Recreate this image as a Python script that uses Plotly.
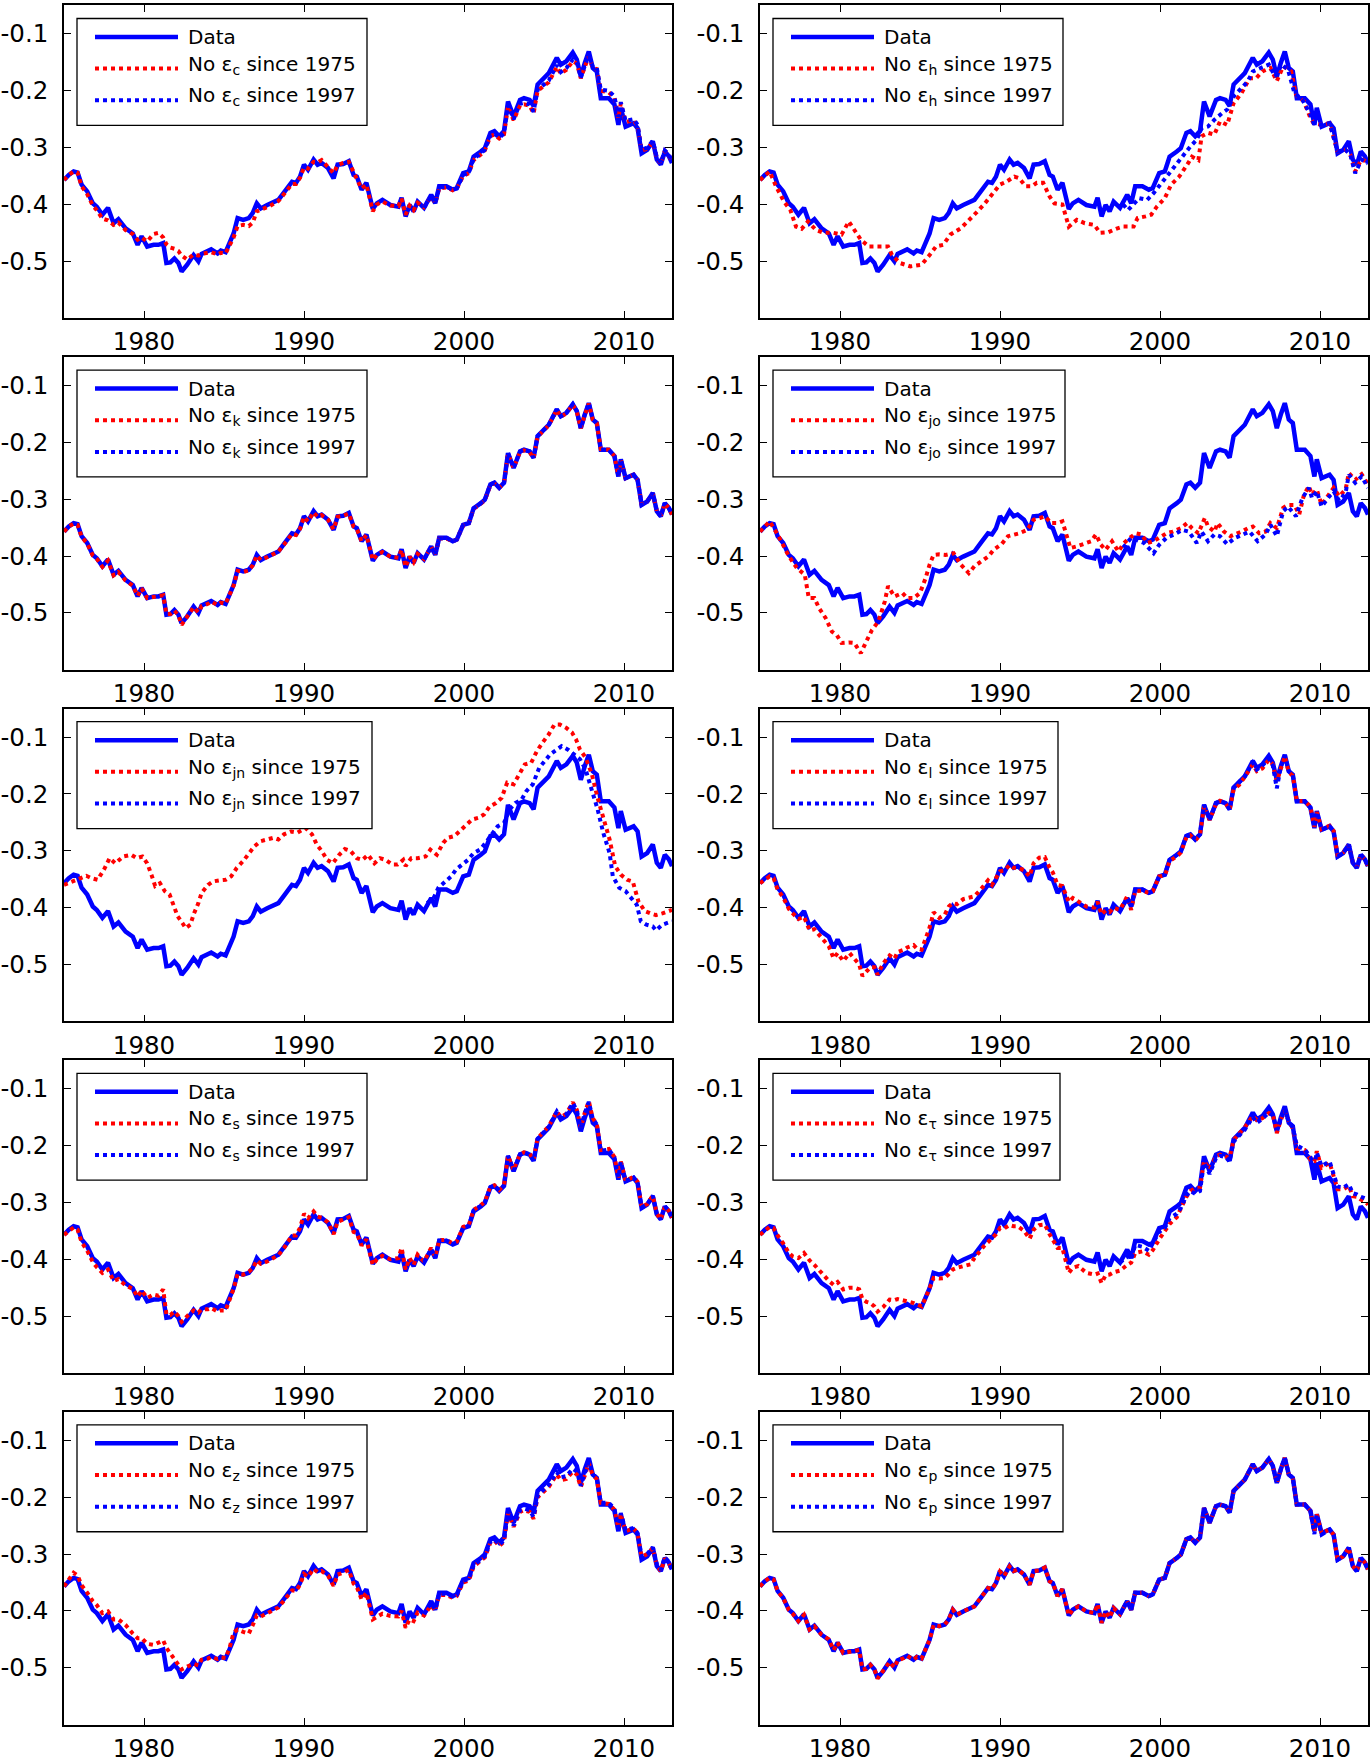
import plotly.graph_objects as go

# ---------------------------------------------------------------- data
DATA_YEARS = [
    1975.00, 1975.30, 1975.60, 1975.85, 1976.10, 1976.45, 1976.80, 1977.05, 1977.40, 1977.75,
    1978.10, 1978.40, 1978.85, 1979.30, 1979.60, 1979.85, 1980.20, 1980.60, 1980.90, 1981.20,
    1981.40, 1981.65, 1981.90, 1982.15, 1982.35, 1982.70, 1983.10, 1983.40, 1983.60, 1984.00,
    1984.20, 1984.60, 1984.80, 1985.10, 1985.35, 1985.60, 1985.85, 1986.20, 1986.55, 1986.80,
    1987.05, 1987.30, 1987.70, 1988.15, 1988.40, 1988.80, 1989.05, 1989.25, 1989.50, 1989.75,
    1990.00, 1990.25, 1990.60, 1990.85, 1991.10, 1991.50, 1991.85, 1992.10, 1992.45, 1992.80,
    1993.10, 1993.30, 1993.60, 1993.90, 1994.30, 1994.55, 1994.90, 1995.40, 1995.90, 1996.10,
    1996.35, 1996.60, 1996.85, 1997.10, 1997.50, 1997.95, 1998.20, 1998.45, 1998.90, 1999.30,
    1999.55, 1999.95, 2000.30, 2000.60, 2001.05, 2001.30, 2001.65, 2001.90, 2002.20, 2002.50,
    2002.75, 2003.10, 2003.50, 2003.75, 2004.10, 2004.35, 2004.60, 2004.95, 2005.30, 2005.80,
    2006.05, 2006.40, 2006.80, 2007.05, 2007.30, 2007.55, 2007.80, 2008.05, 2008.30, 2008.55,
    2009.05, 2009.40, 2009.65, 2009.80, 2010.10, 2010.60, 2010.85, 2011.10, 2011.45, 2011.80,
    2012.05, 2012.30, 2012.55, 2012.80, 2013.00]

DATA_VALUES = [
    -0.357, -0.348, -0.342, -0.344, -0.365, -0.377, -0.398, -0.404, -0.418, -0.406,
    -0.433, -0.426, -0.442, -0.451, -0.471, -0.456, -0.474, -0.471, -0.471, -0.468,
    -0.503, -0.502, -0.495, -0.503, -0.518, -0.506, -0.489, -0.500, -0.487, -0.483,
    -0.479, -0.486, -0.481, -0.484, -0.468, -0.451, -0.424, -0.427, -0.424, -0.415,
    -0.398, -0.407, -0.401, -0.395, -0.392, -0.377, -0.368, -0.360, -0.362, -0.351,
    -0.330, -0.339, -0.321, -0.330, -0.327, -0.336, -0.354, -0.330, -0.329, -0.324,
    -0.348, -0.351, -0.374, -0.362, -0.408, -0.398, -0.392, -0.401, -0.404, -0.388,
    -0.421, -0.401, -0.412, -0.395, -0.406, -0.383, -0.398, -0.368, -0.368, -0.374,
    -0.371, -0.345, -0.342, -0.316, -0.307, -0.301, -0.274, -0.271, -0.280, -0.271,
    -0.219, -0.245, -0.216, -0.213, -0.216, -0.227, -0.189, -0.180, -0.169, -0.142,
    -0.154, -0.148, -0.133, -0.145, -0.175, -0.151, -0.131, -0.160, -0.166, -0.213,
    -0.213, -0.224, -0.260, -0.230, -0.263, -0.257, -0.266, -0.310, -0.304, -0.289,
    -0.321, -0.330, -0.307, -0.315, -0.327]

START_1997 = 74
YEARS_1997 = DATA_YEARS[START_1997:]

# --- shock c
C_1975 = [
    -0.357, -0.348, -0.342, -0.344, -0.368, -0.382, -0.402, -0.410, -0.425, -0.428,
    -0.436, -0.432, -0.445, -0.452, -0.462, -0.458, -0.465, -0.452, -0.450, -0.458,
    -0.470, -0.476, -0.478, -0.482, -0.490, -0.497, -0.488, -0.490, -0.487, -0.486,
    -0.484, -0.488, -0.485, -0.486, -0.472, -0.458, -0.438, -0.436, -0.438, -0.432,
    -0.412, -0.410, -0.405, -0.398, -0.394, -0.380, -0.371, -0.364, -0.364, -0.353,
    -0.335, -0.337, -0.325, -0.326, -0.322, -0.333, -0.345, -0.331, -0.327, -0.325,
    -0.345, -0.355, -0.372, -0.365, -0.412, -0.400, -0.395, -0.402, -0.403, -0.390,
    -0.418, -0.402, -0.410, -0.397, -0.405, -0.386, -0.398, -0.372, -0.370, -0.375,
    -0.372, -0.350, -0.345, -0.322, -0.312, -0.305, -0.280, -0.277, -0.284, -0.277,
    -0.228, -0.252, -0.226, -0.224, -0.226, -0.240, -0.200, -0.192, -0.185, -0.158,
    -0.170, -0.163, -0.148, -0.152, -0.178, -0.158, -0.140, -0.160, -0.162, -0.200,
    -0.203, -0.212, -0.248, -0.222, -0.255, -0.252, -0.262, -0.305, -0.302, -0.290,
    -0.318, -0.328, -0.306, -0.313, -0.325]
C_1997 = [
    -0.406, -0.385, -0.398, -0.370, -0.369, -0.374, -0.372, -0.348, -0.344, -0.320,
    -0.310, -0.304, -0.278, -0.275, -0.283, -0.275, -0.225, -0.250, -0.223, -0.221,
    -0.224, -0.237, -0.198, -0.190, -0.182, -0.155, -0.167, -0.160, -0.145, -0.150,
    -0.177, -0.156, -0.138, -0.158, -0.160, -0.198, -0.200, -0.210, -0.246, -0.220,
    -0.253, -0.250, -0.260, -0.304, -0.300, -0.288, -0.317, -0.327, -0.305, -0.312,
    -0.324]

# --- shock h
H_1975_YEARS = [
    1975.0, 1975.6, 1976.0, 1976.5, 1976.9, 1977.25, 1977.6, 1978.0, 1978.5, 1979.0,
    1979.6, 1980.1, 1980.55, 1980.9, 1981.3, 1981.8, 1982.4, 1983.0, 1983.25, 1983.75,
    1984.4, 1985.1, 1985.6, 1986.0, 1986.45, 1986.9, 1987.55, 1988.0, 1988.5, 1989.0,
    1989.5, 1990.0, 1990.4, 1990.9, 1991.2, 1991.6, 1992.0, 1992.3, 1992.7, 1993.1,
    1993.4, 1993.9, 1994.3, 1994.8, 1995.3, 1995.9, 1996.25, 1996.75, 1997.25, 1997.7,
    1998.35, 1998.6, 1999.1, 1999.45, 1999.8, 2000.3, 2000.7, 2001.2, 2001.7, 2002.0,
    2002.4, 2002.6, 2003.0, 2003.4, 2003.75, 2004.2, 2004.6, 2005.1, 2005.6, 2006.0,
    2006.4, 2006.9, 2007.3, 2007.7, 2008.2, 2008.5, 2009.0, 2009.4, 2009.6, 2010.1,
    2010.6, 2011.1, 2011.6, 2011.9, 2012.2, 2012.6, 2013.0]
H_1975 = [
    -0.357, -0.342, -0.368, -0.395, -0.410, -0.439, -0.443, -0.430, -0.445, -0.450,
    -0.450, -0.453, -0.430, -0.445, -0.462, -0.474, -0.474, -0.474, -0.489, -0.503,
    -0.509, -0.506, -0.489, -0.474, -0.471, -0.453, -0.442, -0.430, -0.415, -0.400,
    -0.383, -0.365, -0.360, -0.351, -0.354, -0.368, -0.368, -0.362, -0.362, -0.386,
    -0.398, -0.400, -0.439, -0.427, -0.433, -0.436, -0.450, -0.449, -0.443, -0.439,
    -0.439, -0.424, -0.421, -0.418, -0.404, -0.389, -0.365, -0.351, -0.330, -0.316,
    -0.322, -0.280, -0.274, -0.277, -0.254, -0.260, -0.222, -0.204, -0.178, -0.178,
    -0.166, -0.160, -0.183, -0.157, -0.166, -0.207, -0.219, -0.248, -0.257, -0.260,
    -0.257, -0.307, -0.304, -0.313, -0.342, -0.320, -0.327]
H_1997_YEARS = [
    1997.7, 1998.0, 1998.7, 1999.2, 1999.6, 2000.1, 2000.6, 2001.1, 2001.6, 2001.9,
    2002.3, 2002.6, 2003.0, 2003.4, 2003.9, 2004.2, 2004.6, 2005.1, 2005.5, 2005.8,
    2006.3, 2006.8, 2007.2, 2007.6, 2008.0, 2008.4, 2008.9, 2009.4, 2009.6, 2010.1,
    2010.6, 2011.1, 2011.6, 2011.9, 2012.2, 2012.6, 2013.0]
H_1997 = [
    -0.400, -0.410, -0.389, -0.392, -0.380, -0.362, -0.345, -0.327, -0.310, -0.298,
    -0.286, -0.266, -0.263, -0.251, -0.239, -0.233, -0.210, -0.195, -0.183, -0.166,
    -0.160, -0.154, -0.175, -0.154, -0.163, -0.204, -0.216, -0.242, -0.257, -0.260,
    -0.257, -0.307, -0.304, -0.313, -0.345, -0.321, -0.328]

# --- shock k
K_1975 = [
    -0.357, -0.348, -0.343, -0.345, -0.366, -0.378, -0.399, -0.405, -0.419, -0.408,
    -0.434, -0.428, -0.443, -0.452, -0.470, -0.457, -0.474, -0.472, -0.471, -0.469,
    -0.502, -0.502, -0.496, -0.504, -0.521, -0.507, -0.490, -0.499, -0.488, -0.484,
    -0.480, -0.486, -0.482, -0.484, -0.469, -0.452, -0.426, -0.428, -0.425, -0.416,
    -0.399, -0.407, -0.402, -0.396, -0.392, -0.378, -0.369, -0.361, -0.363, -0.352,
    -0.331, -0.339, -0.323, -0.331, -0.328, -0.336, -0.353, -0.331, -0.329, -0.325,
    -0.348, -0.352, -0.374, -0.363, -0.407, -0.398, -0.393, -0.401, -0.403, -0.389,
    -0.419, -0.401, -0.411, -0.396, -0.405, -0.384, -0.397, -0.369, -0.369, -0.374,
    -0.371, -0.346, -0.342, -0.317, -0.308, -0.302, -0.275, -0.272, -0.280, -0.272,
    -0.220, -0.245, -0.217, -0.214, -0.217, -0.228, -0.190, -0.181, -0.170, -0.143,
    -0.155, -0.149, -0.134, -0.146, -0.175, -0.152, -0.132, -0.160, -0.166, -0.212,
    -0.213, -0.224, -0.259, -0.231, -0.263, -0.257, -0.266, -0.309, -0.304, -0.290,
    -0.321, -0.329, -0.308, -0.315, -0.327]
K_1997 = [
    -0.406, -0.384, -0.398, -0.369, -0.368, -0.374, -0.371, -0.345, -0.342, -0.316,
    -0.307, -0.301, -0.274, -0.271, -0.280, -0.271, -0.219, -0.245, -0.216, -0.213,
    -0.216, -0.227, -0.189, -0.180, -0.169, -0.142, -0.154, -0.148, -0.133, -0.145,
    -0.175, -0.151, -0.131, -0.160, -0.166, -0.213, -0.213, -0.224, -0.260, -0.230,
    -0.263, -0.257, -0.266, -0.310, -0.304, -0.289, -0.321, -0.330, -0.307, -0.315,
    -0.327]

# --- shock jo
JO_1975_YEARS = [
    1975.0, 1975.6, 1976.1, 1976.45, 1976.8, 1977.3, 1977.8, 1978.05, 1978.4, 1978.7,
    1979.1, 1979.5, 1979.8, 1980.1, 1980.55, 1980.9, 1981.3, 1981.65, 1982.0, 1982.4,
    1982.8, 1983.0, 1983.4, 1983.9, 1984.2, 1984.6, 1985.0, 1985.35, 1985.6, 1985.85,
    1986.2, 1986.6, 1987.1, 1987.55, 1988.05, 1988.4, 1988.8, 1989.3, 1989.6, 1990.1,
    1990.5, 1990.9, 1991.2, 1991.7, 1992.1, 1992.5, 1992.8, 1993.2, 1993.6, 1993.9,
    1994.2, 1994.4, 1994.8, 1995.3, 1995.7, 1996.0, 1996.3, 1996.6, 1997.0, 1997.4,
    1997.75, 1998.1, 1998.5, 1998.85, 1999.2, 1999.6, 1999.95, 2000.4, 2000.8, 2001.3,
    2001.7, 2002.0, 2002.4, 2002.8, 2003.0, 2003.4, 2003.6, 2004.0, 2004.4, 2004.7,
    2005.1, 2005.5, 2005.8, 2006.2, 2006.6, 2006.9, 2007.3, 2007.7, 2008.0, 2008.4,
    2008.7, 2009.0, 2009.3, 2009.5, 2009.8, 2010.1, 2010.5, 2010.85, 2011.2, 2011.6,
    2011.8, 2012.2, 2012.6, 2013.0]
JO_1975 = [
    -0.357, -0.339, -0.362, -0.380, -0.400, -0.421, -0.433, -0.474, -0.474, -0.492,
    -0.509, -0.533, -0.539, -0.553, -0.552, -0.553, -0.571, -0.550, -0.530, -0.515,
    -0.480, -0.453, -0.471, -0.465, -0.474, -0.474, -0.465, -0.439, -0.415, -0.398,
    -0.397, -0.398, -0.395, -0.415, -0.430, -0.418, -0.410, -0.400, -0.389, -0.379,
    -0.365, -0.362, -0.360, -0.354, -0.336, -0.333, -0.330, -0.342, -0.342, -0.339,
    -0.371, -0.386, -0.383, -0.377, -0.374, -0.362, -0.380, -0.389, -0.374, -0.392,
    -0.377, -0.368, -0.360, -0.362, -0.377, -0.374, -0.368, -0.360, -0.357, -0.351,
    -0.342, -0.351, -0.360, -0.333, -0.348, -0.357, -0.342, -0.357, -0.365, -0.362,
    -0.357, -0.351, -0.348, -0.360, -0.357, -0.342, -0.351, -0.315, -0.310, -0.310,
    -0.327, -0.292, -0.277, -0.292, -0.283, -0.310, -0.295, -0.280, -0.295, -0.283,
    -0.254, -0.266, -0.256, -0.274]
JO_1997_YEARS = [
    1997.7, 1998.2, 1999.0, 1999.35, 1999.6, 1999.95, 2000.4, 2000.9, 2001.4, 2001.8,
    2002.3, 2002.6, 2003.0, 2003.4, 2003.75, 2004.2, 2004.7, 2005.2, 2005.6, 2006.1,
    2006.6, 2006.9, 2007.3, 2007.7, 2008.0, 2008.5, 2008.9, 2009.3, 2009.5, 2009.8,
    2010.1, 2010.5, 2010.85, 2011.2, 2011.6, 2011.8, 2012.2, 2012.6, 2013.0]
JO_1997 = [
    -0.385, -0.368, -0.377, -0.389, -0.395, -0.380, -0.368, -0.362, -0.354, -0.357,
    -0.377, -0.357, -0.374, -0.362, -0.365, -0.379, -0.368, -0.362, -0.357, -0.374,
    -0.362, -0.345, -0.365, -0.321, -0.313, -0.330, -0.298, -0.280, -0.298, -0.286,
    -0.313, -0.298, -0.286, -0.303, -0.289, -0.257, -0.271, -0.260, -0.280]

# --- shock jn
JN_1975_YEARS = [
    1975.0, 1975.5, 1976.0, 1976.4, 1976.7, 1977.1, 1977.5, 1977.85, 1978.2, 1978.7,
    1979.2, 1979.55, 1979.9, 1980.2, 1980.5, 1980.7, 1981.0, 1981.3, 1981.6, 1981.9,
    1982.1, 1982.4, 1982.6, 1982.9, 1983.1, 1983.4, 1983.6, 1984.0, 1984.3, 1984.7,
    1985.1, 1985.45, 1985.8, 1986.2, 1986.55, 1986.9, 1987.3, 1987.8, 1988.1, 1988.4,
    1988.75, 1989.2, 1989.6, 1990.1, 1990.5, 1990.8, 1991.1, 1991.45, 1991.8, 1992.2,
    1992.55, 1992.9, 1993.3, 1993.65, 1994.0, 1994.4, 1994.75, 1995.1, 1995.5, 1995.85,
    1996.2, 1996.35, 1996.7, 1997.1, 1997.6, 1997.9, 1998.3, 1998.7, 1999.0, 1999.4,
    1999.8, 2000.1, 2000.5, 2000.9, 2001.25, 2001.6, 2002.0, 2002.35, 2002.7, 2003.1,
    2003.45, 2003.8, 2004.2, 2004.55, 2004.9, 2005.3, 2005.65, 2006.0, 2006.4, 2006.75,
    2007.0, 2007.25, 2007.6, 2008.0, 2008.35, 2008.7, 2009.1, 2009.45, 2009.8, 2010.2,
    2010.55, 2010.9, 2011.3, 2011.65, 2012.0, 2012.4, 2013.0]
JN_1975 = [
    -0.360, -0.354, -0.348, -0.344, -0.348, -0.351, -0.333, -0.313, -0.322, -0.310,
    -0.307, -0.313, -0.310, -0.322, -0.345, -0.362, -0.357, -0.371, -0.377, -0.398,
    -0.415, -0.427, -0.436, -0.430, -0.412, -0.392, -0.374, -0.360, -0.354, -0.352,
    -0.351, -0.345, -0.330, -0.318, -0.304, -0.292, -0.283, -0.280, -0.277, -0.280,
    -0.271, -0.266, -0.268, -0.260, -0.271, -0.289, -0.300, -0.316, -0.322, -0.307,
    -0.297, -0.300, -0.313, -0.316, -0.307, -0.322, -0.313, -0.316, -0.324, -0.324,
    -0.316, -0.327, -0.313, -0.313, -0.310, -0.298, -0.307, -0.286, -0.277, -0.274,
    -0.263, -0.254, -0.245, -0.242, -0.236, -0.222, -0.216, -0.207, -0.180, -0.183,
    -0.166, -0.148, -0.145, -0.125, -0.110, -0.095, -0.078, -0.078, -0.084, -0.092,
    -0.104, -0.122, -0.136, -0.166, -0.207, -0.242, -0.280, -0.327, -0.342, -0.351,
    -0.354, -0.389, -0.406, -0.410, -0.413, -0.410, -0.404]
JN_1997_YEARS = [
    1997.7, 1998.1, 1998.4, 1998.8, 1999.2, 1999.5, 1999.9, 2000.25, 2000.6, 2001.0,
    2001.35, 2001.7, 2002.1, 2002.5, 2002.85, 2003.2, 2003.6, 2003.9, 2004.3, 2004.7,
    2005.05, 2005.4, 2005.8, 2006.1, 2006.5, 2006.9, 2007.25, 2007.6, 2008.0, 2008.35,
    2008.7, 2009.1, 2009.3, 2009.7, 2010.1, 2010.45, 2010.8, 2011.05, 2011.4, 2011.8,
    2012.0, 2012.4, 2013.0]
JN_1997 = [
    -0.392, -0.383, -0.365, -0.354, -0.345, -0.333, -0.324, -0.316, -0.304, -0.298,
    -0.286, -0.271, -0.257, -0.251, -0.227, -0.216, -0.210, -0.195, -0.183, -0.154,
    -0.142, -0.130, -0.122, -0.116, -0.122, -0.130, -0.139, -0.157, -0.195, -0.227,
    -0.268, -0.304, -0.345, -0.365, -0.371, -0.383, -0.395, -0.424, -0.430, -0.433,
    -0.440, -0.430, -0.424]

# --- shock l
L_1975 = [
    -0.357, -0.350, -0.345, -0.348, -0.368, -0.382, -0.402, -0.410, -0.420, -0.416,
    -0.440, -0.438, -0.453, -0.468, -0.489, -0.480, -0.494, -0.480, -0.490, -0.500,
    -0.520, -0.512, -0.505, -0.505, -0.518, -0.498, -0.484, -0.490, -0.478, -0.474,
    -0.470, -0.466, -0.472, -0.474, -0.455, -0.435, -0.408, -0.418, -0.412, -0.398,
    -0.392, -0.394, -0.385, -0.382, -0.380, -0.368, -0.360, -0.352, -0.360, -0.348,
    -0.336, -0.335, -0.325, -0.330, -0.330, -0.334, -0.345, -0.322, -0.312, -0.311,
    -0.330, -0.338, -0.360, -0.362, -0.390, -0.383, -0.390, -0.398, -0.400, -0.390,
    -0.412, -0.405, -0.408, -0.400, -0.404, -0.380, -0.404, -0.371, -0.370, -0.374,
    -0.371, -0.345, -0.344, -0.318, -0.310, -0.303, -0.276, -0.273, -0.282, -0.272,
    -0.222, -0.246, -0.218, -0.212, -0.216, -0.228, -0.192, -0.184, -0.170, -0.148,
    -0.160, -0.155, -0.140, -0.148, -0.178, -0.154, -0.134, -0.162, -0.168, -0.212,
    -0.213, -0.222, -0.258, -0.232, -0.262, -0.256, -0.265, -0.308, -0.303, -0.290,
    -0.320, -0.329, -0.307, -0.315, -0.327]
L_1997 = [
    -0.406, -0.383, -0.398, -0.368, -0.368, -0.374, -0.371, -0.345, -0.342, -0.316,
    -0.307, -0.301, -0.274, -0.271, -0.280, -0.271, -0.219, -0.245, -0.216, -0.213,
    -0.216, -0.227, -0.189, -0.180, -0.169, -0.145, -0.157, -0.150, -0.138, -0.150,
    -0.190, -0.153, -0.133, -0.160, -0.166, -0.213, -0.213, -0.224, -0.258, -0.232,
    -0.263, -0.257, -0.266, -0.310, -0.304, -0.289, -0.321, -0.330, -0.307, -0.315,
    -0.327]

# --- shock s
S_1975 = [
    -0.357, -0.350, -0.344, -0.348, -0.370, -0.385, -0.405, -0.414, -0.424, -0.418,
    -0.438, -0.435, -0.446, -0.452, -0.466, -0.455, -0.468, -0.462, -0.464, -0.453,
    -0.497, -0.498, -0.492, -0.500, -0.510, -0.500, -0.490, -0.494, -0.488, -0.488,
    -0.486, -0.492, -0.490, -0.490, -0.472, -0.452, -0.426, -0.427, -0.422, -0.416,
    -0.402, -0.408, -0.404, -0.397, -0.393, -0.378, -0.367, -0.358, -0.358, -0.345,
    -0.320, -0.328, -0.316, -0.325, -0.327, -0.335, -0.356, -0.334, -0.330, -0.326,
    -0.352, -0.354, -0.376, -0.365, -0.410, -0.400, -0.394, -0.400, -0.398, -0.380,
    -0.418, -0.398, -0.410, -0.392, -0.404, -0.380, -0.396, -0.366, -0.366, -0.372,
    -0.369, -0.343, -0.340, -0.313, -0.305, -0.299, -0.272, -0.270, -0.278, -0.270,
    -0.218, -0.243, -0.215, -0.212, -0.214, -0.225, -0.187, -0.177, -0.166, -0.140,
    -0.150, -0.144, -0.124, -0.137, -0.168, -0.142, -0.122, -0.152, -0.162, -0.208,
    -0.206, -0.220, -0.256, -0.228, -0.262, -0.255, -0.264, -0.308, -0.303, -0.288,
    -0.320, -0.330, -0.307, -0.315, -0.327]
S_1997 = [
    -0.405, -0.382, -0.397, -0.367, -0.367, -0.373, -0.370, -0.344, -0.341, -0.314,
    -0.306, -0.300, -0.273, -0.270, -0.279, -0.270, -0.218, -0.244, -0.215, -0.212,
    -0.215, -0.226, -0.188, -0.178, -0.167, -0.140, -0.151, -0.145, -0.125, -0.138,
    -0.168, -0.143, -0.123, -0.153, -0.163, -0.209, -0.207, -0.221, -0.256, -0.229,
    -0.262, -0.256, -0.265, -0.309, -0.303, -0.288, -0.320, -0.330, -0.307, -0.315,
    -0.327]

# --- shock tau
TAU_1975 = [
    -0.357, -0.350, -0.343, -0.345, -0.358, -0.372, -0.389, -0.395, -0.398, -0.389,
    -0.402, -0.410, -0.425, -0.438, -0.445, -0.440, -0.453, -0.450, -0.450, -0.453,
    -0.470, -0.475, -0.477, -0.483, -0.492, -0.484, -0.471, -0.472, -0.470, -0.472,
    -0.474, -0.477, -0.479, -0.483, -0.468, -0.452, -0.433, -0.434, -0.433, -0.426,
    -0.418, -0.415, -0.412, -0.409, -0.398, -0.383, -0.375, -0.370, -0.364, -0.356,
    -0.345, -0.346, -0.340, -0.342, -0.342, -0.350, -0.364, -0.348, -0.340, -0.339,
    -0.356, -0.365, -0.380, -0.380, -0.424, -0.415, -0.412, -0.424, -0.427, -0.425,
    -0.442, -0.428, -0.427, -0.423, -0.420, -0.410, -0.406, -0.389, -0.386, -0.392,
    -0.384, -0.365, -0.350, -0.338, -0.326, -0.312, -0.290, -0.280, -0.275, -0.274,
    -0.227, -0.242, -0.219, -0.216, -0.219, -0.222, -0.190, -0.178, -0.168, -0.148,
    -0.155, -0.152, -0.143, -0.145, -0.178, -0.155, -0.139, -0.157, -0.170, -0.205,
    -0.208, -0.225, -0.228, -0.210, -0.239, -0.230, -0.251, -0.277, -0.277, -0.271,
    -0.289, -0.290, -0.295, -0.298, -0.304]
TAU_1997 = [
    -0.406, -0.395, -0.400, -0.375, -0.378, -0.385, -0.372, -0.352, -0.345, -0.328,
    -0.320, -0.310, -0.288, -0.280, -0.285, -0.280, -0.230, -0.250, -0.222, -0.218,
    -0.220, -0.228, -0.193, -0.182, -0.172, -0.150, -0.160, -0.153, -0.142, -0.147,
    -0.172, -0.155, -0.137, -0.158, -0.168, -0.200, -0.207, -0.220, -0.235, -0.212,
    -0.236, -0.228, -0.248, -0.272, -0.274, -0.268, -0.284, -0.286, -0.290, -0.292,
    -0.295]

# --- shock z
Z_1975 = [
    -0.357, -0.345, -0.333, -0.338, -0.355, -0.368, -0.383, -0.390, -0.404, -0.401,
    -0.415, -0.415, -0.425, -0.440, -0.448, -0.448, -0.458, -0.460, -0.455, -0.452,
    -0.465, -0.475, -0.485, -0.492, -0.503, -0.498, -0.493, -0.496, -0.486, -0.484,
    -0.481, -0.485, -0.482, -0.483, -0.465, -0.438, -0.433, -0.437, -0.440, -0.425,
    -0.408, -0.410, -0.404, -0.398, -0.394, -0.380, -0.370, -0.364, -0.365, -0.354,
    -0.335, -0.340, -0.326, -0.332, -0.330, -0.338, -0.356, -0.336, -0.333, -0.328,
    -0.352, -0.358, -0.380, -0.368, -0.415, -0.410, -0.405, -0.409, -0.410, -0.400,
    -0.430, -0.415, -0.418, -0.403, -0.408, -0.390, -0.400, -0.372, -0.372, -0.377,
    -0.374, -0.350, -0.347, -0.322, -0.312, -0.306, -0.280, -0.276, -0.286, -0.278,
    -0.228, -0.252, -0.226, -0.223, -0.226, -0.238, -0.200, -0.192, -0.182, -0.160,
    -0.170, -0.168, -0.155, -0.160, -0.182, -0.162, -0.140, -0.162, -0.168, -0.210,
    -0.212, -0.222, -0.255, -0.230, -0.260, -0.255, -0.264, -0.305, -0.300, -0.290,
    -0.320, -0.330, -0.308, -0.316, -0.330]
Z_1997 = [
    -0.406, -0.386, -0.398, -0.370, -0.370, -0.375, -0.372, -0.347, -0.344, -0.320,
    -0.310, -0.304, -0.278, -0.274, -0.284, -0.276, -0.225, -0.250, -0.223, -0.220,
    -0.223, -0.235, -0.197, -0.188, -0.178, -0.156, -0.165, -0.163, -0.150, -0.155,
    -0.180, -0.158, -0.138, -0.160, -0.166, -0.210, -0.210, -0.220, -0.254, -0.228,
    -0.258, -0.254, -0.263, -0.304, -0.300, -0.288, -0.318, -0.328, -0.306, -0.314,
    -0.328]

# --- shock p
P_1975 = [
    -0.357, -0.348, -0.342, -0.345, -0.365, -0.378, -0.398, -0.405, -0.418, -0.407,
    -0.433, -0.427, -0.442, -0.450, -0.469, -0.456, -0.474, -0.472, -0.472, -0.469,
    -0.503, -0.502, -0.495, -0.503, -0.519, -0.506, -0.490, -0.500, -0.487, -0.483,
    -0.479, -0.486, -0.481, -0.484, -0.468, -0.451, -0.425, -0.427, -0.424, -0.415,
    -0.398, -0.407, -0.401, -0.395, -0.392, -0.377, -0.368, -0.360, -0.362, -0.351,
    -0.331, -0.339, -0.322, -0.330, -0.327, -0.336, -0.354, -0.330, -0.329, -0.324,
    -0.348, -0.351, -0.374, -0.362, -0.408, -0.398, -0.392, -0.401, -0.404, -0.388,
    -0.421, -0.401, -0.412, -0.395, -0.406, -0.383, -0.398, -0.368, -0.368, -0.374,
    -0.371, -0.345, -0.342, -0.316, -0.307, -0.301, -0.274, -0.271, -0.280, -0.271,
    -0.219, -0.245, -0.216, -0.213, -0.216, -0.227, -0.189, -0.180, -0.169, -0.142,
    -0.154, -0.148, -0.133, -0.145, -0.175, -0.151, -0.131, -0.160, -0.166, -0.213,
    -0.213, -0.224, -0.260, -0.230, -0.263, -0.257, -0.266, -0.310, -0.304, -0.289,
    -0.321, -0.330, -0.307, -0.315, -0.327]
P_1997 = [
    -0.406, -0.383, -0.398, -0.368, -0.368, -0.374, -0.371, -0.345, -0.342, -0.316,
    -0.307, -0.301, -0.274, -0.271, -0.280, -0.271, -0.219, -0.245, -0.216, -0.213,
    -0.216, -0.227, -0.189, -0.180, -0.169, -0.142, -0.154, -0.148, -0.133, -0.145,
    -0.175, -0.151, -0.131, -0.160, -0.166, -0.213, -0.213, -0.224, -0.265, -0.232,
    -0.266, -0.257, -0.266, -0.310, -0.304, -0.289, -0.321, -0.330, -0.307, -0.315,
    -0.327]

PANEL_SHOCKS = ["c", "h", "k", "jo", "jn", "l", "s", "τ", "z", "p"]
SERIES_1975 = {
    "c": (DATA_YEARS, C_1975), "h": (H_1975_YEARS, H_1975), "k": (DATA_YEARS, K_1975),
    "jo": (JO_1975_YEARS, JO_1975), "jn": (JN_1975_YEARS, JN_1975), "l": (DATA_YEARS, L_1975),
    "s": (DATA_YEARS, S_1975), "τ": (DATA_YEARS, TAU_1975), "z": (DATA_YEARS, Z_1975),
    "p": (DATA_YEARS, P_1975)}
SERIES_1997 = {
    "c": (YEARS_1997, C_1997), "h": (H_1997_YEARS, H_1997), "k": (YEARS_1997, K_1997),
    "jo": (JO_1997_YEARS, JO_1997), "jn": (JN_1997_YEARS, JN_1997), "l": (YEARS_1997, L_1997),
    "s": (YEARS_1997, S_1997), "τ": (YEARS_1997, TAU_1997), "z": (YEARS_1997, Z_1997),
    "p": (YEARS_1997, P_1997)}

X_TICKS = [1980, 1990, 2000, 2010]
X_TICK_TEXT = ["1980", "1990", "2000", "2010"]
Y_TICKS = [-0.5, -0.4, -0.3, -0.2, -0.1]
Y_TICK_TEXT = ["-0.5", "-0.4", "-0.3", "-0.2", "-0.1"]
X_RANGE = [1975, 2013]
Y_RANGE = [-0.6, -0.05]

for key in PANEL_SHOCKS:
    for xs, ys in (SERIES_1975[key], SERIES_1997[key]):
        assert len(xs) == len(ys), (key, len(xs), len(ys))
assert len(DATA_YEARS) == len(DATA_VALUES)

# ---------------------------------------------------------------- style / layout
W, H = 1372, 1763
FONT = "DejaVu Sans"
BLUE = "rgb(0,0,255)"
RED = "rgb(255,0,0)"
DOT = "4px,4px"
COL_X = [(64, 672), (760, 1368)]
ROW_TOP0, ROW_PITCH, PANEL_H = 5.5, 352, 313
LEGEND_W = {"c": 290, "h": 290, "k": 290, "jo": 292, "jn": 295, "l": 285,
            "s": 290, "τ": 287, "z": 290, "p": 290}
LEGEND_H = 107


def px(x):
    return x / W


def py(y):
    return 1 - y / H


fig = go.Figure()
layout = dict(width=W, height=H, autosize=False, margin=dict(l=0, r=0, t=0, b=0),
              paper_bgcolor="white", plot_bgcolor="white", showlegend=False,
              hovermode=False)
shapes, annotations = [], []

axis_common = dict(showline=True, linecolor="black", linewidth=1.6, mirror="ticks",
                   ticks="inside", ticklen=7, tickwidth=1.3, tickcolor="black",
                   showgrid=False, zeroline=False, fixedrange=True,
                   tickfont=dict(family=FONT, size=24.5, color="black"))

for i, key in enumerate(PANEL_SHOCKS):
    r, c = divmod(i, 2)
    x0, x1 = COL_X[c]
    top = ROW_TOP0 + ROW_PITCH * r
    bot = top + PANEL_H
    n = i + 1
    xa = "x" if n == 1 else f"x{n}"
    ya = "y" if n == 1 else f"y{n}"
    layout["xaxis" if n == 1 else f"xaxis{n}"] = dict(
        axis_common, domain=[px(x0), px(x1)], anchor=ya, range=X_RANGE,
        tickmode="array", tickvals=X_TICKS, ticktext=X_TICK_TEXT, ticklabelstandoff=1)
    layout["yaxis" if n == 1 else f"yaxis{n}"] = dict(
        axis_common, domain=[py(bot), py(top)], anchor=xa, range=Y_RANGE,
        tickmode="array", tickvals=Y_TICKS, ticktext=Y_TICK_TEXT, ticklabelstandoff=9)

    fig.add_trace(go.Scatter(x=DATA_YEARS, y=DATA_VALUES, xaxis=xa, yaxis=ya, mode="lines",
                             line=dict(color=BLUE, width=4.5)))
    xs, ys = SERIES_1975[key]
    fig.add_trace(go.Scatter(x=xs, y=ys, xaxis=xa, yaxis=ya, mode="lines",
                             line=dict(color=RED, width=4, dash=DOT)))
    xs, ys = SERIES_1997[key]
    fig.add_trace(go.Scatter(x=xs, y=ys, xaxis=xa, yaxis=ya, mode="lines",
                             line=dict(color=BLUE, width=4, dash=DOT)))

    # legend box
    bx, by = x0 + 13, top + 13
    bw = LEGEND_W[key]
    shapes.append(dict(type="rect", xref="paper", yref="paper",
                       x0=px(bx), x1=px(bx + bw), y0=py(by + LEGEND_H), y1=py(by),
                       line=dict(color="black", width=1.3), fillcolor="white", layer="above"))
    rows = [("Data", BLUE, "solid", 4.5),
            (f"No ε<sub>{key}</sub> since 1975", RED, DOT, 4),
            (f"No ε<sub>{key}</sub> since 1997", BLUE, DOT, 4)]
    for j, (label, col, dash, lw) in enumerate(rows):
        ry = by + 18.5 + 31.7 * j
        shapes.append(dict(type="line", xref="paper", yref="paper",
                           x0=px(bx + 18), x1=px(bx + 101), y0=py(ry), y1=py(ry),
                           line=dict(color=col, width=lw, dash=dash), layer="above"))
        annotations.append(dict(xref="paper", yref="paper", x=px(bx + 109), y=py(ry),
                                xanchor="left", yanchor="middle", showarrow=False,
                                text=label, yshift=(0 if j == 0 else 4),
                                font=dict(family=FONT, size=20, color="black")))

layout["shapes"] = shapes
layout["annotations"] = annotations
fig.update_layout(**layout)
fig.write_html("out.html")
